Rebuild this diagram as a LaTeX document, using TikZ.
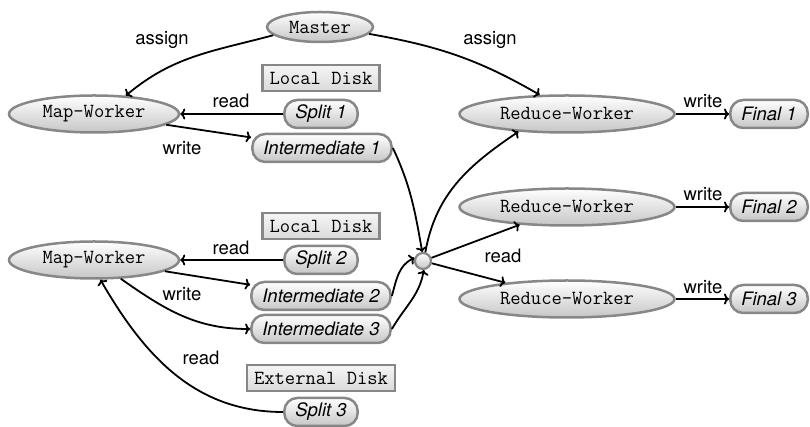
\documentclass[tikz,border=0pt]{standalone}
\usepackage{fontspec}
\newfontfamily\labfont{TeX Gyre Heros}
\usetikzlibrary{shapes.geometric,arrows.meta}
\definecolor{bordergray}{RGB}{135,135,135}
\definecolor{fillbot}{RGB}{198,198,198}
\definecolor{disktop}{RGB}{245,245,245}
\definecolor{diskbot}{RGB}{218,218,218}
\begin{document}
\begin{tikzpicture}[x=1pt,y=1pt,
  >={To[length=5pt,width=11pt]},
  work/.style={ellipse, draw=bordergray, line width=2.5pt, top color=white, bottom color=fillbot,
    inner sep=0pt, minimum height=37pt, font=\ttfamily\fontsize{20}{24}\selectfont},
  filebox/.style={rectangle, rounded corners=13pt, draw=bordergray, line width=2.5pt, top color=white,
    bottom color=fillbot, minimum height=28pt, inner xsep=11pt, inner ysep=0pt,
    font=\labfont\itshape\fontsize{18.5}{22}\selectfont},
  disk/.style={rectangle, draw=bordergray, line width=2.5pt, top color=disktop, bottom color=diskbot,
    minimum height=26pt, inner xsep=7pt, inner ysep=0pt, font=\ttfamily\fontsize{20}{24}\selectfont},
  lab/.style={inner sep=0pt, font=\labfont\fontsize{18.5}{22}\selectfont},
  conn/.style={->, line width=1.8pt},
  junction/.style={circle, draw=bordergray, line width=2.2pt, top color=white, bottom color=fillbot,
    inner sep=0pt, minimum size=16pt}
]
\useasboundingbox (0,0) rectangle (810,427);

% nodes
\node[work, minimum width=106pt, minimum height=30pt] (master) at (320,400) {Master};
\node[work, minimum width=170pt] (mw1) at (94,313) {Map-Worker};
\node[work, minimum width=170pt] (mw2) at (94,167) {Map-Worker};
\node[work, minimum width=215pt] (rw1) at (567,313) {Reduce-Worker};
\node[work, minimum width=215pt] (rw2) at (567,220) {Reduce-Worker};
\node[work, minimum width=215pt] (rw3) at (567,128) {Reduce-Worker};

\node[disk] (ld1) at (321,349) {Local Disk};
\node[disk] (ld2) at (321,201) {Local Disk};
\node[disk] (ed) at (321,49) {External Disk};

\node[filebox] (s1) at (321,313) {Split 1};
\node[filebox] (i1) at (322,279) {Intermediate 1};
\node[filebox] (s2) at (321,167) {Split 2};
\node[filebox] (i2) at (321,131) {Intermediate 2};
\node[filebox] (i3) at (321,98) {Intermediate 3};
\node[filebox] (s3) at (321,15) {Split 3};

\node[filebox] (f1) at (769,313) {Final 1};
\node[filebox] (f2) at (769,220) {Final 2};
\node[filebox] (f3) at (769,128) {Final 3};

\node[junction] (junc) at (423,166) {};

% connectors
\draw[conn] (master.190) to[out=195,in=40] (mw1.30);
\draw[conn] (master.-8) to[out=-10,in=150] (rw1.145);
\draw[conn] (s1) -- (mw1);
\draw[conn] (mw1) -- (i1);
\draw[conn] (s2) -- (mw2);
\draw[conn] (mw2) -- (i2);
\draw[conn] (mw2.-35) to[out=-35,in=180] (i3.west);
\draw[conn] (s3.west) to[out=180,in=-60] (mw2.-72);
\draw[conn] (i1.east) to[out=-65,in=100] (junc.95);
\draw[conn] (i2.east) to[out=75,in=205] (junc.160);
\draw[conn] (i3.east) to[out=60,in=-100] (junc.-85);
\draw[conn] (junc.75) to[out=80,in=214] (rw1.200);
\draw[conn] (junc) -- (rw2);
\draw[conn] (junc) -- (rw3);
\draw[conn] (rw1) -- (f1);
\draw[conn] (rw2) -- (f2);
\draw[conn] (rw3) -- (f3);

% labels
\node[lab] (la1) at (162,387) {assign};
\node[lab] (la2) at (490,387) {assign};
\node[lab] (lr1) at (231,326) {read};
\node[lab] (lw1) at (182,279) {write};
\node[lab] (lr2) at (231,179) {read};
\node[lab] (lw2) at (182,133) {write};
\node[lab] (lr3) at (201,69) {read};
\node[lab] (lr4) at (503,171) {read};
\node[lab] (lw3) at (703,326) {write};
\node[lab] (lw4) at (703,233) {write};
\node[lab] (lw5) at (703,140) {write};
\end{tikzpicture}
\end{document}
